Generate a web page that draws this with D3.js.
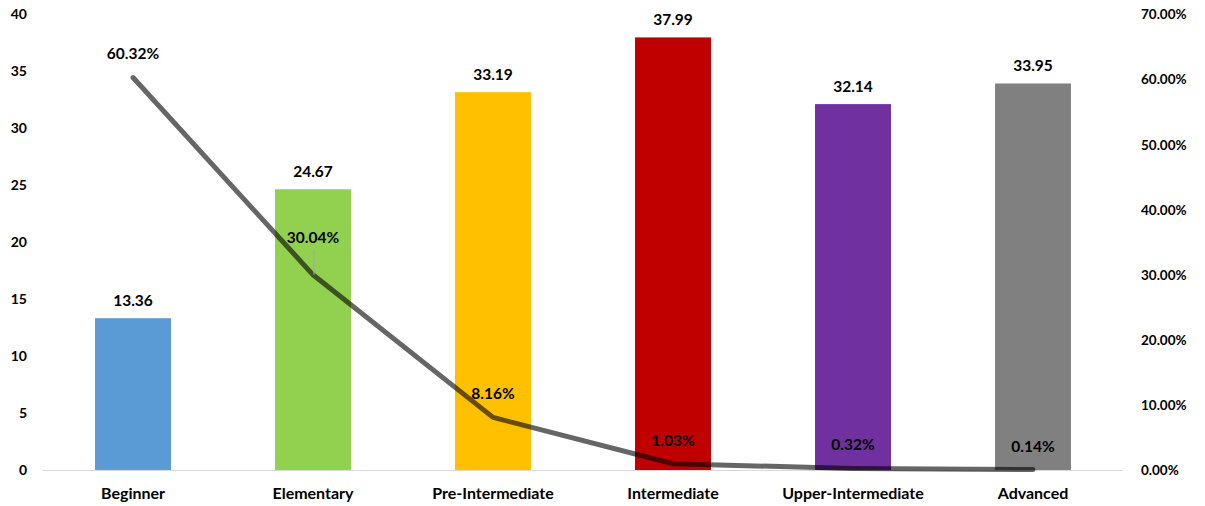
<!DOCTYPE html>
<html>
<head>
<meta charset="utf-8">
<script src="https://cdn.jsdelivr.net/npm/d3@7"></script>
<style>
  html, body { margin: 0; padding: 0; background: #fff; }
  svg text { font-family: Lato, "Open Sans", sans-serif; font-weight: bold; fill: #000; }
</style>
</head>
<body>
<svg id="chart" width="1205" height="506"></svg>
<script>
const categories = ["Beginner", "Elementary", "Pre-Intermediate", "Intermediate", "Upper-Intermediate", "Advanced"];
const barValues = [13.36, 24.67, 33.19, 37.99, 32.14, 33.95];
const lineValues = [60.32, 30.04, 8.16, 1.03, 0.32, 0.14];
const barColors = ["#5b9bd5", "#92d050", "#ffc000", "#c00000", "#7030a0", "#808080"];
const leftTicks = [0, 5, 10, 15, 20, 25, 30, 35, 40];
const rightTicks = [0, 10, 20, 30, 40, 50, 60, 70];

(function () {
const svg = d3.select("#chart");
const pLeft = 43, pRight = 1123, pTop = 14.5, pBottom = 470.5;

const x = d3.scaleBand().domain(categories).range([pLeft, pRight]).paddingInner(0.578).paddingOuter(0.289);
const yL = d3.scaleLinear().domain([0, 40]).range([pBottom, pTop]);
const yR = d3.scaleLinear().domain([0, 70]).range([pBottom, pTop]);
const cx = d => x(d) + x.bandwidth() / 2;

// bars
svg.append("g").selectAll("rect").data(categories).join("rect")
  .attr("x", d => x(d))
  .attr("width", x.bandwidth())
  .attr("y", (d, i) => yL(barValues[i]))
  .attr("height", (d, i) => pBottom - yL(barValues[i]))
  .attr("fill", (d, i) => barColors[i]);

// baseline
svg.append("line")
  .attr("x1", pLeft).attr("x2", pRight)
  .attr("y1", pBottom).attr("y2", pBottom)
  .attr("stroke", "#d9d9d9").attr("stroke-width", 1);

const styleAxis = size => g => {
  g.select(".domain").remove();
  g.selectAll("text").style("font-size", size + "px").style("font-family", "Lato, sans-serif").style("font-weight", "bold").attr("fill", "#000");
};

// left axis
svg.append("g").attr("transform", `translate(${pLeft},0)`)
  .call(d3.axisLeft(yL).tickValues(leftTicks).tickSize(0).tickPadding(16).tickFormat(d3.format("d")))
  .call(styleAxis(14));

// right axis
svg.append("g").attr("transform", `translate(${pRight},0)`)
  .call(d3.axisRight(yR).tickValues(rightTicks).tickSize(0).tickPadding(18).tickFormat(d => d.toFixed(2) + "%"))
  .call(styleAxis(13.5));

// category axis
svg.append("g").attr("transform", `translate(0,${pBottom})`)
  .call(d3.axisBottom(x).tickSize(0).tickPadding(17))
  .call(styleAxis(16));

// bar labels
svg.append("g").selectAll("text").data(categories).join("text")
  .attr("x", d => cx(d))
  .attr("y", (d, i) => yL(barValues[i]) - 18)
  .attr("dy", "0.35em")
  .attr("text-anchor", "middle")
  .style("font-size", "15.5px")
  .text((d, i) => barValues[i].toFixed(2));

// line
const line = d3.line().x((d, i) => cx(categories[i])).y(d => yR(d));
svg.append("path")
  .datum(lineValues)
  .attr("d", line)
  .attr("fill", "none")
  .attr("stroke", "#000")
  .attr("stroke-opacity", 0.6)
  .attr("stroke-width", 5)
  .attr("stroke-linejoin", "round")
  .attr("stroke-linecap", "round");

// leader line for displaced label (Elementary)
const lead = 1;
svg.append("line")
  .attr("x1", cx(categories[lead]) + 1).attr("x2", cx(categories[lead]) + 1)
  .attr("y1", yR(lineValues[lead]) - 25).attr("y2", yR(lineValues[lead]))
  .attr("stroke", "#a6a6a6").attr("stroke-width", 1);

// line labels
svg.append("g").selectAll("text").data(lineValues).join("text")
  .attr("x", (d, i) => cx(categories[i]))
  .attr("y", (d, i) => yR(d) - (i === lead ? 37 : 23.5))
  .attr("dy", "0.35em")
  .attr("text-anchor", "middle")
  .style("font-size", "15.5px")
  .text(d => d.toFixed(2) + "%");
})();
</script>
</body>
</html>
